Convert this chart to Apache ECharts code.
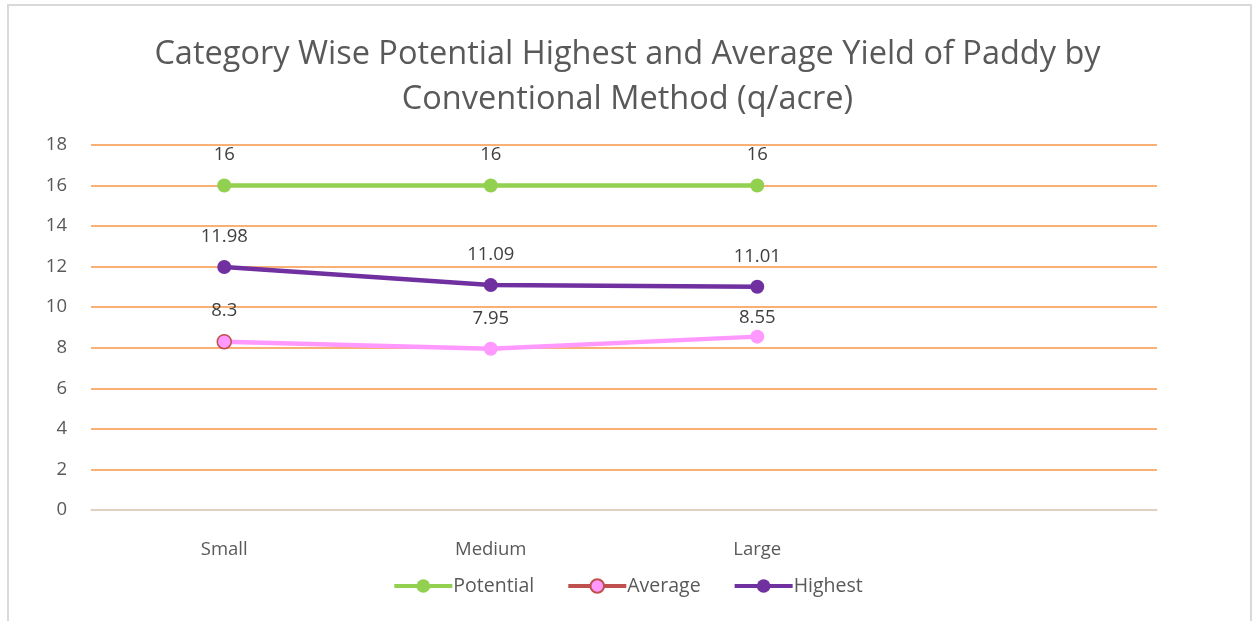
<!DOCTYPE html>
<html>
<head>
<meta charset="utf-8">
<script src="https://cdn.jsdelivr.net/npm/echarts@6/dist/echarts.min.js"></script>
<style>
  html, body { margin: 0; padding: 0; background: #fff; }
  .frame {
    position: absolute; left: 7px; top: 4px; width: 1245px; height: 640px;
    border: 2px solid #d9d9d9; border-bottom: none; box-sizing: border-box;
  }
  #chart { position: absolute; left: 0; top: 0; width: 1255px; height: 621px; }
</style>
</head>
<body>
<div class="frame"></div>
<div id="chart"></div>
<script>
// 类别（第四个位置在原图里是空的）
const categories = ['Small', 'Medium', 'Large', '']
const potential = [16, 16, 16, null]
const average = [8.3, 7.95, 8.55, null]
const highest = [11.98, 11.09, 11.01, null]
const yTicks = [0, 2, 4, 6, 8, 10, 12, 14, 16, 18]

const font = 'Open Sans'
const textColor = '#595959'

let myChart = echarts.init(document.getElementById('chart'))

let labelStyle = {
  show: true,
  position: 'top',
  distance: 14,
  fontSize: 18.5,
  fontFamily: font,
  color: '#404040'
}

// Average 第一个点是红边，Large 的标签比别的低一点
let averageData = average.map((v, i) => {
  let item = { value: v }
  if (i === 0) item.itemStyle = { borderColor: '#c0504d', borderWidth: 1.5 }
  if (i === 2) item.label = { distance: 2 }
  return item
})

let option = {
  animation: false,
  title: {
    text: 'Category Wise Potential Highest and Average Yield of Paddy by\nConventional Method (q/acre)',
    left: 'center',
    top: 27,
    textStyle: {
      fontFamily: font,
      fontSize: 32.5,
      fontWeight: 'normal',
      color: textColor,
      lineHeight: 45
    }
  },
  legend: {
    bottom: 20,
    left: 'center',
    itemWidth: 58,
    itemHeight: 17,
    itemGap: 32,
    textStyle: { fontFamily: font, fontSize: 19.5, color: textColor, padding: [0, 0, 0, -4] },
    data: [
      { name: 'Potential', lineStyle: { width: 4 } },
      { name: 'Average', lineStyle: { color: '#c0504d', width: 4 }, itemStyle: { color: '#ff99ff', borderColor: '#c0504d', borderWidth: 2 } },
      { name: 'Highest', lineStyle: { width: 4 } }
    ]
  },
  grid: {
    left: 91,
    right: 98,
    top: 145,
    bottom: 111
  },
  xAxis: {
    type: 'category',
    data: categories,
    boundaryGap: true,
    axisLine: { lineStyle: { color: '#d9d9d9', width: 1.5 } },
    axisTick: { show: false },
    axisLabel: { fontFamily: font, fontSize: 18.5, color: textColor, margin: 30 }
  },
  yAxis: {
    type: 'value',
    min: yTicks[0],
    max: yTicks[yTicks.length - 1],
    interval: 2,
    axisLine: { show: false },
    axisTick: { show: false },
    axisLabel: { fontFamily: font, fontSize: 18.5, color: textColor, margin: 24 },
    splitLine: { lineStyle: { color: '#f79646', width: 1.5 } }
  },
  series: [
    {
      name: 'Potential',
      type: 'line',
      data: potential,
      symbol: 'circle',
      symbolSize: 14,
      lineStyle: { color: '#92d050', width: 4.5 },
      itemStyle: { color: '#92d050' },
      label: labelStyle
    },
    {
      name: 'Average',
      type: 'line',
      data: averageData,
      symbol: 'circle',
      symbolSize: 14,
      lineStyle: { color: '#ff99ff', width: 4.5 },
      itemStyle: { color: '#ff99ff' },
      label: labelStyle
    },
    {
      name: 'Highest',
      type: 'line',
      data: highest,
      symbol: 'circle',
      symbolSize: 14,
      lineStyle: { color: '#7030a0', width: 4.5 },
      itemStyle: { color: '#7030a0' },
      label: labelStyle
    }
  ]
}
myChart.setOption(option)
</script>
</body>
</html>
